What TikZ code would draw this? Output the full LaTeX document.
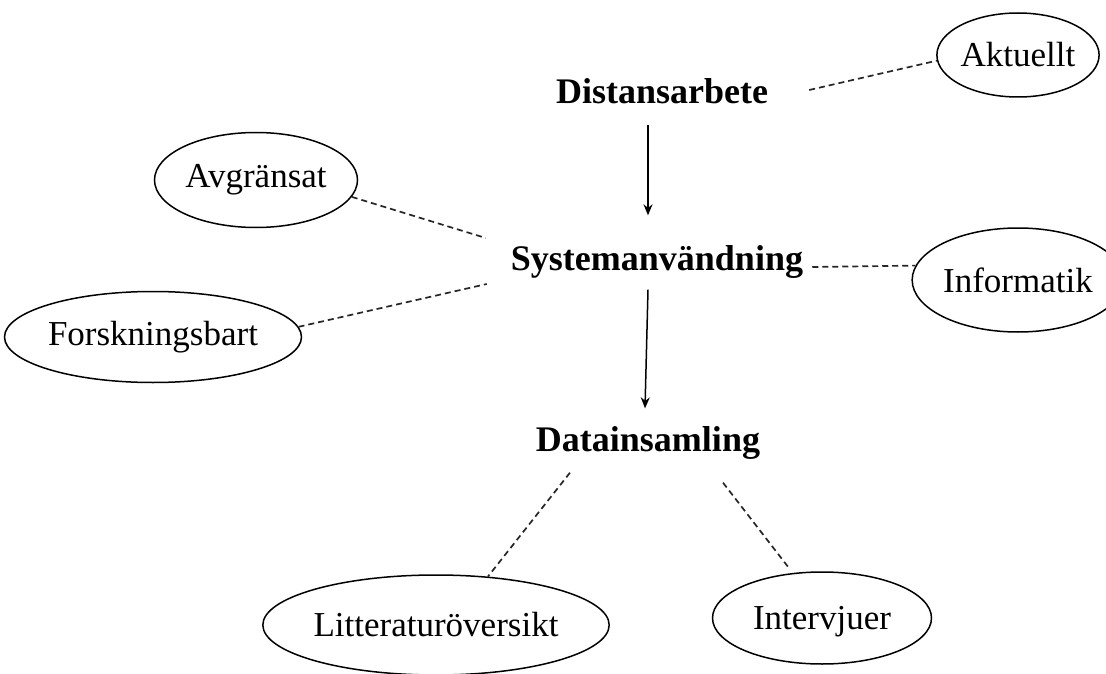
\documentclass[tikz,border=0pt]{standalone}
\usepackage{fontspec}
\setmainfont{Liberation Serif}
\usetikzlibrary{shapes.geometric,arrows.meta}
\begin{document}
\begin{tikzpicture}[x=1pt,y=-1pt,
    topic/.style={font=\fontsize{36}{40}\selectfont\bfseries, inner sep=0pt},
    aspect/.style={ellipse, draw, line width=1.5pt, inner sep=0pt, font=\fontsize{35}{40}\selectfont},
    link/.style={dash pattern=on 6pt off 4pt, line width=1.7pt, black!85},
    flow/.style={-{Stealth[length=11pt,width=9pt]}, line width=1.5pt}]
    \useasboundingbox (0,0) rectangle (1106,674);
    % Topics %
    \node[topic] (dist) at (662,91) {Distansarbete};
    \node[topic] (sys) at (657,262) {Systemanvändning};
    \node[topic] (data) at (648,443) {Datainsamling};

    % Aspects %
    \node[aspect, minimum width=140pt, minimum height=84pt] (akt) at (1018,55) {Aktuellt};
    \node[aspect, minimum width=203pt, minimum height=95pt] (avg) at (256,180) {Avgränsat};
    \node[aspect, minimum width=170pt, minimum height=104pt] (info) at (1018,280) {Informatik};
    \node[aspect, minimum width=280pt, minimum height=91pt] (forsk) at (153,337) {Forskningsbart};
    \node[aspect, minimum width=293pt, minimum height=100pt] (litt) at (436,625) {Litteraturöversikt};
    \node[aspect, minimum width=219pt, minimum height=92pt, text depth=0pt] (intv) at (822,618) {Intervjuer};

    % Arrows %
    \draw[flow] ([xshift=-14pt,yshift=-21pt]dist.south) -- ([xshift=-9pt,yshift=30pt]sys.north);
    \draw[flow] ([xshift=-9pt,yshift=-11pt]sys.south) -- ([xshift=-3pt,yshift=18pt]data.north);

    % Dashed links %
    \draw[link] ([xshift=41pt,yshift=1pt]dist.east) -- (akt.184);
    \draw[link] (avg.-10) -- ([xshift=-25pt,yshift=24pt]sys.west);
    \draw[link] (forsk.4) -- ([xshift=-24pt,yshift=-22pt]sys.west);
    \draw[link] ([xshift=9pt,yshift=-5pt]sys.east) -- (info.172);
    \draw[link] ([xshift=-78pt,yshift=-13pt]data.south) -- (litt.43);
    \draw[link, shorten >=7pt] ([xshift=75pt,yshift=-23pt]data.south) -- (intv.123);
\end{tikzpicture}
\end{document}
